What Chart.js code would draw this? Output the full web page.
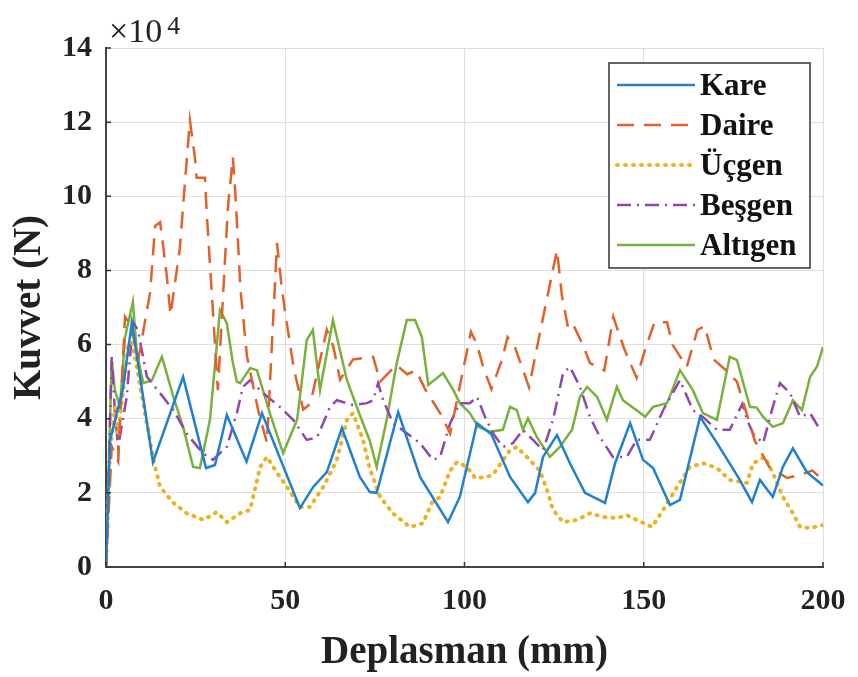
<!DOCTYPE html>
<html>
<head>
<meta charset="utf-8">
<script src="https://cdn.jsdelivr.net/npm/chart.js@4/dist/chart.umd.min.js"></script>
<style>
  html, body { margin: 0; padding: 0; background: #fff; }
  #wrap { width: 858px; height: 677px; }
</style>
</head>
<body>
<div id="wrap"><canvas id="forceChart" width="858" height="677"></canvas></div>
<script>
// values, force in units of 10^4 N, displacement in mm
const seriesNames = ['Kare', 'Daire', 'Üçgen', 'Beşgen', 'Altıgen'];
const xTicks = [0, 50, 100, 150, 200];
const yTicks = [0, 2, 4, 6, 8, 10, 12, 14];

const kareX = [0, 1.1, 4.7, 7.2, 13.1, 21.5, 27.9, 30.4, 33.7, 39.2, 43.5, 54.1, 57.8, 61.6, 65.8, 70.8, 73.6, 75.5, 81.5, 87.6, 95.4, 98.7, 103.5, 107.5, 112.7, 117.7, 119.7, 121.9, 125.8, 129.4, 133.6, 139.2, 142, 146.2, 149.8, 152.6, 157.3, 160.1, 165.7, 170.4, 176.5, 180.2, 182.4, 186, 188.8, 191.6, 195.5, 200];
const kareY = [0, 3.4, 4.8, 6.6, 2.83, 5.13, 2.67, 2.75, 4.1, 2.84, 4.15, 1.59, 2.16, 2.56, 3.75, 2.43, 2.02, 2.0, 4.18, 2.43, 1.21, 1.89, 3.88, 3.58, 2.43, 1.75, 2.0, 2.97, 3.56, 2.8, 2.0, 1.73, 2.8, 3.88, 2.89, 2.67, 1.67, 1.81, 4.05, 3.35, 2.4, 1.75, 2.35, 1.89, 2.7, 3.2, 2.56, 2.2];

const daireX = [0, 1.6, 3.4, 5.3, 7, 9, 12.3, 13.7, 15.1, 16.9, 18, 20.6, 22, 23.4, 24.8, 25.3, 27.6, 28.1, 31.2, 34, 35.4, 36, 36.8, 37.5, 39.3, 42.5, 44.9, 47.7, 49, 50, 52.3, 55, 57, 61.6, 63.4, 65.3, 68.9, 74.5, 76.5, 78.5, 81, 84, 86.5, 89, 93.5, 96, 101.8, 103.5, 105.2, 107.5, 110.5, 112, 114, 116, 118, 121, 125.8, 127.2, 129, 130.5, 133, 135, 139, 141.5, 144.5, 148, 150.5, 153, 156.5, 158, 162, 165, 167, 169.5, 173, 176, 178.5, 181, 185, 190, 194, 197, 200];
const daireY = [0, 3.25, 2.85, 6.75, 6.5, 5.6, 7.4, 9.2, 9.3, 7.9, 6.8, 8.6, 10.35, 12.05, 11.05, 10.5, 10.5, 9.55, 4.77, 9.7, 11.05, 10.2, 8.8, 7.5, 5.7, 4.2, 3.35, 8.74, 7.55, 6.85, 5.4, 4.25, 4.4, 6.4, 5.95, 5.05, 5.6, 5.67, 5.0, 5.2, 5.45, 5.2, 5.3, 4.8, 4.1, 3.6, 6.35, 6.0, 5.4, 4.8, 5.6, 6.2, 5.95, 5.4, 4.85, 6.3, 8.55, 7.3, 6.4, 6.5, 6.0, 5.5, 5.3, 6.75, 5.9, 5.1, 5.9, 6.6, 6.6, 6.0, 5.4, 6.4, 6.5, 5.6, 5.3, 5.0, 4.2, 3.4, 2.7, 2.4, 2.5, 2.6, 2.35];

const ucgenX = [0, 1.1, 2.5, 3.4, 6.2, 7.2, 8.6, 10.4, 13.2, 15.1, 18.8, 22.5, 27.2, 30.9, 33.7, 37.4, 40.2, 43, 44.9, 47.7, 50.5, 54.1, 56.9, 60.6, 64.4, 67.2, 68.9, 71.7, 73.6, 76.4, 80, 84.8, 88.4, 90.9, 93.2, 96, 97.9, 100.7, 103, 106.3, 108, 110.5, 112.7, 114.6, 117.4, 121, 123, 124.7, 127.5, 131.4, 135, 138.6, 142.5, 145.3, 148, 152.3, 155.4, 159.3, 162.9, 166.5, 170.4, 174, 178.8, 180.5, 183.8, 186, 188.8, 191.6, 193.6, 196.4, 200];
const ucgenY = [0, 3.1, 4.3, 3.6, 5.95, 6.07, 5.4, 4.4, 2.9, 2.16, 1.73, 1.45, 1.27, 1.48, 1.21, 1.45, 1.54, 2.7, 2.97, 2.54, 2.16, 1.62, 1.62, 2.16, 2.89, 3.97, 4.15, 3.43, 2.65, 1.9, 1.45, 1.08, 1.18, 1.73, 1.89, 2.6, 2.83, 2.7, 2.4, 2.43, 2.5, 2.85, 3.15, 3.24, 2.97, 2.6, 2.08, 1.54, 1.21, 1.27, 1.45, 1.35, 1.32, 1.4, 1.27, 1.08, 1.54, 2.16, 2.7, 2.8, 2.67, 2.35, 2.27, 2.8, 2.97, 2.54, 1.89, 1.45, 1.08, 1.05, 1.13];

const besgenX = [0, 1.6, 2.5, 3.4, 5.8, 7.5, 8.9, 11.4, 15, 18.8, 22.5, 27, 29.8, 33.7, 36.5, 38.2, 40.2, 43.8, 48.5, 52.2, 56, 58.9, 62.5, 64.4, 68.9, 72.8, 74.5, 75.9, 77.3, 80.1, 84, 87.6, 91.2, 93.2, 96, 98.7, 101.5, 103.5, 105.7, 108, 110.7, 113.5, 116.3, 119.1, 121.9, 124.7, 127.5, 129.4, 132.2, 135, 137.8, 141.4, 145.3, 148, 151.7, 155.4, 160.1, 163.7, 166.5, 170.4, 174, 177.5, 178.8, 180.5, 183.3, 186, 188, 190.8, 193.6, 196.4, 199.2];
const besgenY = [0, 5.67, 4.15, 3.24, 4.6, 6.6, 6.4, 5.13, 4.7, 4.23, 3.6, 3.07, 2.89, 3.24, 4.15, 4.86, 5.04, 4.69, 4.32, 3.97, 3.43, 3.5, 4.32, 4.5, 4.37, 4.42, 4.5, 4.96, 4.5, 3.88, 3.6, 3.34, 2.89, 2.97, 3.88, 4.42, 4.42, 4.59, 4.05, 3.6, 3.24, 3.34, 3.7, 3.43, 3.15, 3.97, 5.23, 5.4, 4.86, 4.05, 3.5, 2.97, 2.97, 3.43, 3.43, 4.23, 5.04, 4.23, 4.05, 3.7, 3.7, 4.4, 3.97, 3.6, 3.34, 4.32, 4.96, 4.69, 4.05, 4.15, 3.7];

const altigenX = [0, 1.6, 2.5, 3.9, 5.3, 7.5, 8.6, 10.4, 12.8, 15.6, 18.8, 21.5, 24.3, 26.2, 29, 31.8, 33.7, 35.4, 36.5, 37.4, 40.2, 42.1, 45.7, 49.4, 53.3, 56, 57.7, 59.7, 63.3, 67.2, 70.8, 73.6, 75.5, 78.3, 81.1, 83.9, 86.2, 88.1, 89.9, 94, 96.9, 98.7, 101.5, 103.8, 107.1, 110.7, 112.7, 114.6, 116.3, 117.7, 120.2, 123.8, 126.6, 130, 132.2, 134.2, 137, 139.7, 142.5, 144.2, 145.3, 148, 150.4, 152.6, 156.5, 160.1, 163.7, 166.5, 170.4, 174, 176, 179.6, 181.5, 183.3, 186, 188.8, 191.6, 194.1, 196.4, 198.3, 200];
const altigenY = [0, 5.58, 4.77, 4.32, 6.2, 7.15, 5.77, 4.96, 5.04, 5.67, 4.59, 3.78, 2.7, 2.67, 3.97, 6.93, 6.58, 5.5, 5.0, 4.96, 5.36, 5.31, 4.15, 3.07, 3.97, 6.12, 6.4, 4.77, 6.66, 5.04, 4.1, 3.4, 2.7, 3.97, 5.5, 6.66, 6.66, 6.2, 4.91, 5.23, 4.77, 4.42, 4.15, 3.78, 3.65, 3.7, 4.32, 4.23, 3.7, 4.01, 3.5, 2.97, 3.24, 3.7, 4.59, 4.86, 4.59, 3.97, 4.86, 4.5, 4.42, 4.23, 4.05, 4.32, 4.42, 5.31, 4.77, 4.15, 3.97, 5.67, 5.58, 4.32, 4.3, 4.05, 3.78, 3.88, 4.5, 4.23, 5.13, 5.4, 5.93];

const serif = '"Liberation Serif", "Times New Roman", serif';

function pts(xs, ys) {
    return xs.map((x, i) => ({ x: x, y: ys[i] }));
}

const datasets = [
    { label: seriesNames[0], data: pts(kareX, kareY), borderColor: '#1f80cc', borderDash: [] },
    { label: seriesNames[1], data: pts(daireX, daireY), borderColor: '#e0612a', borderDash: [17, 10] },
    { label: seriesNames[2], data: pts(ucgenX, ucgenY), borderColor: '#ecb224', borderDash: [1, 7], borderCapStyle: 'round', borderWidth: 4 },
    { label: seriesNames[3], data: pts(besgenX, besgenY), borderColor: '#9046ad', borderDash: [14, 6, 2, 6] },
    { label: seriesNames[4], data: pts(altigenX, altigenY), borderColor: '#78b13c', borderDash: [] }
].map(d => Object.assign({ borderWidth: 2.5, pointRadius: 0, fill: false, tension: 0 }, d));

// x10^4 label, small inward ticks and the boxed legend
const extras = {
    id: 'extras',
    afterDraw(chart) {
        const ctx = chart.ctx;
        const area = chart.chartArea;
        const xs = chart.scales.x, ys = chart.scales.y;
        ctx.save();

        ctx.strokeStyle = '#333';
        ctx.lineWidth = 1.5;
        ctx.beginPath();
        yTicks.forEach(v => {
            const py = ys.getPixelForValue(v);
            ctx.moveTo(area.left, py);
            ctx.lineTo(area.left + 5, py);
        });
        xTicks.forEach(v => {
            const px = xs.getPixelForValue(v);
            ctx.moveTo(px, area.bottom);
            ctx.lineTo(px, area.bottom - 5);
        });
        ctx.stroke();

        ctx.fillStyle = '#222';
        ctx.textBaseline = 'alphabetic';
        ctx.textAlign = 'left';
        ctx.font = '34px ' + serif;
        ctx.fillText('×10', area.left + 3, area.top - 6);
        const w = ctx.measureText('×10').width;
        ctx.font = '26px ' + serif;
        ctx.fillText('4', area.left + 8 + w, area.top - 14);

        const bx = area.right - 214, by = area.top + 15, bw = 201, bh = 205;
        ctx.fillStyle = '#fff';
        ctx.fillRect(bx, by, bw, bh);
        ctx.strokeStyle = '#333';
        ctx.lineWidth = 1.5;
        ctx.strokeRect(bx, by, bw, bh);
        ctx.font = 'bold 31px ' + serif;
        ctx.textBaseline = 'middle';
        chart.data.datasets.forEach((d, i) => {
            const cy = by + 22 + i * 40;
            ctx.strokeStyle = d.borderColor;
            ctx.lineWidth = d.borderWidth;
            ctx.lineCap = d.borderCapStyle || 'butt';
            ctx.setLineDash(d.borderDash);
            ctx.beginPath();
            ctx.moveTo(bx + 8, cy);
            ctx.lineTo(bx + 86, cy);
            ctx.stroke();
            ctx.setLineDash([]);
            ctx.fillStyle = '#111';
            ctx.fillText(d.label, bx + 91, cy + 2);
        });
        ctx.restore();
    }
};

const config = {
    type: 'line',
    data: { datasets: datasets },
    options: {
        responsive: false,
        animation: false,
        layout: { padding: { left: 0, right: 35, top: 48, bottom: 0 } },
        plugins: { legend: { display: false }, tooltip: { enabled: false } },
        scales: {
            x: {
                type: 'linear',
                min: 0, max: 200,
                afterFit: s => { s.height = 110; s.paddingLeft = 0; s.paddingRight = 0; },
                afterBuildTicks: s => { s.ticks = xTicks.map(v => ({ value: v })); },
                grid: { color: '#dedede', lineWidth: 1, drawTicks: false },
                border: { color: '#444', width: 2 },
                ticks: { color: '#222', padding: 16, maxRotation: 0, font: { family: serif, size: 30, weight: 'bold' } },
                title: { display: true, text: 'Deplasman (mm)', color: '#222', padding: { bottom: 1 }, font: { family: serif, size: 39, weight: 'bold' } }
            },
            y: {
                min: 0, max: 14,
                afterFit: s => { s.width = 106; },
                afterBuildTicks: s => { s.ticks = yTicks.map(v => ({ value: v })); },
                grid: { color: '#dedede', lineWidth: 1, drawTicks: false },
                border: { color: '#444', width: 2 },
                ticks: { color: '#222', padding: 14, font: { family: serif, size: 30, weight: 'bold' } },
                title: { display: true, text: 'Kuvvet (N)', color: '#222', padding: { top: 7 }, font: { family: serif, size: 39, weight: 'bold' } }
            }
        }
    },
    plugins: [extras]
};

new Chart(document.getElementById('forceChart').getContext('2d'), config);
</script>
</body>
</html>
